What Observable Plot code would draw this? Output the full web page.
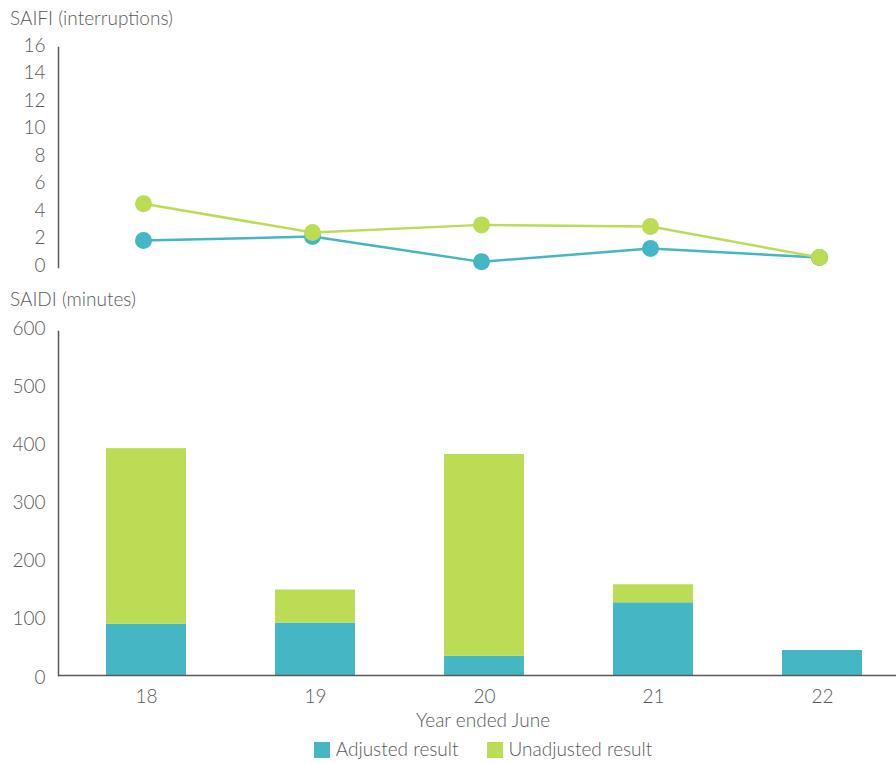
<!DOCTYPE html>
<html>
<head>
<meta charset="utf-8">
<script src="https://cdn.jsdelivr.net/npm/d3@7"></script>
<script src="https://cdn.jsdelivr.net/npm/@observablehq/plot@0.6"></script>
<style>
  html, body { margin: 0; padding: 0; background: #fff; overflow: hidden; }
  body { width: 896px; height: 763px; font-family: Lato, "Open Sans", sans-serif; color: #595959; }
  .title { height: 30px; line-height: 30px; font-size: 19px; padding-left: 10px; font-weight: 300; }
  #t1 { height: 36px; line-height: 36px; }
  svg { display: block; }
  .xlabel { height: 28px; line-height: 28px; font-size: 19px; text-align: center; padding-left: 70px; width: 826px; font-weight: 300; }
  .legend { height: 30px; line-height: 30px; font-size: 19px; display: flex; justify-content: center; padding-left: 70px; width: 826px; gap: 28px; font-weight: 300; }
  .legend span.sw { display: inline-block; width: 16px; height: 16px; vertical-align: -2px; margin-right: 6px; }
</style>
</head>
<body>
<div class="title" id="t1">SAIFI (interruptions)</div>
<div id="c1"></div>
<div class="title" id="t2">SAIDI (minutes)</div>
<div id="c2"></div>
<div class="xlabel">Year ended June</div>
<div class="legend">
  <div><span class="sw" style="background:#45b6c4"></span>Adjusted result</div>
  <div><span class="sw" style="background:#bbdc54"></span>Unadjusted result</div>
</div>
<script>
const years = ["18", "19", "20", "21", "22"];
const saifiAdjusted = [1.96, 2.25, 0.41, 1.38, 0.73];
const saifiUnadjusted = [4.63, 2.55, 3.1, 2.98, 0.73];
const saidiAdjusted = [88, 90, 33, 125, 43];
const saidiUnadjusted = [390, 147, 380, 156, 43];
const saifiTicks = [0, 2, 4, 6, 8, 10, 12, 14, 16];
const saidiTicks = [0, 100, 200, 300, 400, 500, 600];
const seriesNames = ["Adjusted result", "Unadjusted result"];
const colors = ["#45b6c4", "#bbdc54"];

const lineData = [
  ...years.map((y, i) => ({year: y, value: saifiUnadjusted[i], series: seriesNames[1]})),
  ...years.map((y, i) => ({year: y, value: saifiAdjusted[i], series: seriesNames[0]}))
];
const barData = [
  ...years.map((y, i) => ({year: y, value: saidiAdjusted[i], series: seriesNames[0]})),
  ...years.map((y, i) => ({year: y, value: Math.max(0, saidiUnadjusted[i] - saidiAdjusted[i]), series: seriesNames[1]}))
];

const font = "Lato, 'Open Sans', sans-serif";
const color = {domain: seriesNames, range: colors};

const p1 = Plot.plot({
  width: 896, height: 248,
  marginLeft: 58, marginRight: 0, marginTop: 11, marginBottom: 17,
  style: {fontFamily: font, fontSize: "19px", color: "#595959", fontWeight: 300, overflow: "visible"},
  x: {type: "point", domain: years, range: [143, 819], padding: 0, axis: null},
  y: {domain: [0, 16], ticks: saifiTicks, label: null, tickSize: 0, tickPadding: 13},
  color,
  marks: [
    Plot.frame({anchor: "left", stroke: "#595959", strokeWidth: 1.5}),
    Plot.axisY({ticks: saifiTicks, tickSize: 0, tickPadding: 13, label: null, fill: "#595959", dy: -2}),
    Plot.line(lineData.filter(d => d.series === seriesNames[0]), {x: "year", y: "value", stroke: colors[0], strokeWidth: 2.5}),
    Plot.line(lineData.filter(d => d.series === seriesNames[1]), {x: "year", y: "value", stroke: colors[1], strokeWidth: 2.5}),
    Plot.dot(lineData.filter(d => d.series === seriesNames[0]), {x: "year", y: "value", fill: colors[0], r: 8.5}),
    Plot.dot(lineData.filter(d => d.series === seriesNames[1]), {x: "year", y: "value", fill: colors[1], r: 8.5})
  ]
});
document.getElementById("c1").append(p1);

const p2 = Plot.plot({
  width: 896, height: 392,
  marginLeft: 58, marginRight: 0, marginTop: 17, marginBottom: 31,
  style: {fontFamily: font, fontSize: "19px", color: "#595959", fontWeight: 300, overflow: "visible"},
  x: {type: "band", domain: years, range: [106, 862], paddingInner: 0.527, paddingOuter: 0, label: null, tickSize: 0, tickPadding: 14},
  y: {domain: [0, 600], range: [361, 12], ticks: saidiTicks, label: null, tickSize: 0, tickPadding: 13},
  color,
  marks: [
    Plot.barY(barData, Plot.stackY({x: "year", y: "value", fill: "series", order: seriesNames})),
    Plot.frame({anchor: "left", stroke: "#595959", strokeWidth: 1.5}),
    Plot.ruleY([0], {stroke: "#595959", strokeWidth: 1.5}),
    Plot.axisY({ticks: saidiTicks, tickSize: 0, tickPadding: 13, label: null, fill: "#595959", dy: 2}),
    Plot.axisX({tickSize: 0, tickPadding: 14, label: null, fill: "#595959"})
  ]
});
document.getElementById("c2").append(p2);
</script>
</body>
</html>
